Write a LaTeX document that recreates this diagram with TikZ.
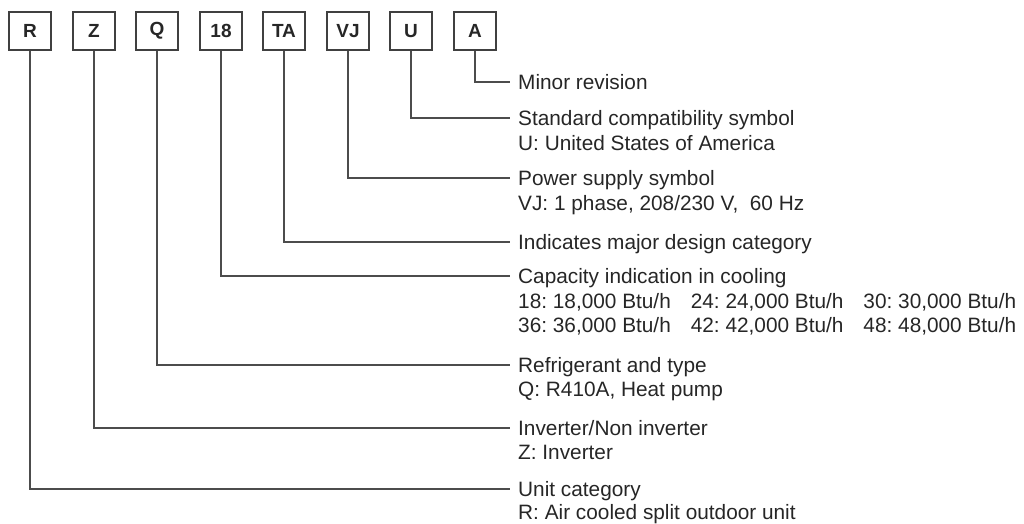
\documentclass[tikz,border=0pt]{standalone}
\usepackage{fontspec}
\setmainfont{Liberation Sans}
\usepackage{tikz}
\frenchspacing
\tikzset{code/.style={draw=black!75, line width=1.3pt, minimum width=42pt, minimum height=38pt, inner sep=0pt, font=\fontsize{19}{19}\selectfont\bfseries, text=black!85}}
\tikzset{head/.style={anchor=west, inner xsep=8pt, inner ysep=0pt, text height=15pt, text depth=0pt, font=\fontsize{20.8}{25}\selectfont, text=black!85}}
\tikzset{desc/.style={anchor=base west, inner xsep=8pt, inner ysep=0pt, font=\fontsize{20.8}{25}\selectfont, text=black!85}}
\tikzset{lead/.style={draw=black!70, line width=1.3pt}}

\begin{document}
\begin{tikzpicture}[x=1pt, y=-1pt]

	\useasboundingbox (0,0) rectangle (1024,523);

	% model code letters
	\node[code] (cR) at (30,31) {R};
	\node[code] (cZ) at (94,31) {Z};
	\node[code] (cQ) at (157,31) {Q};
	\node[code] (c18) at (221,31) {18};
	\node[code] (cTA) at (284,31) {TA};
	\node[code] (cVJ) at (348,31) {VJ};
	\node[code] (cU) at (411,31) {U};
	\node[code] (cA) at (475,31) {A};

	% meanings
	\node[head] (hA) at (510,82) {Minor revision};

	\node[head] (hU) at (510,118) {Standard compatibility symbol};
	\node[desc] (dU) at ([yshift=-25pt]hU.base west) {U: United States of America};

	\node[head] (hVJ) at (510,178) {Power supply symbol};
	\node[desc] (dVJ) at ([yshift=-25pt]hVJ.base west) {VJ: 1 phase, 208/230 V,\ \ 60 Hz};

	\node[head] (hTA) at (510,242) {Indicates major design category};

	\node[head] (h18) at (510,276) {Capacity indication in cooling};
	\node[desc] (d18a) at ([yshift=-25pt]h18.base west) {18: 18,000 Btu/h\hspace{20pt}24: 24,000 Btu/h\hspace{20pt}30: 30,000 Btu/h};
	\node[desc] (d18b) at ([yshift=-24pt]d18a.base west) {36: 36,000 Btu/h\hspace{20pt}42: 42,000 Btu/h\hspace{20pt}48: 48,000 Btu/h};

	\node[head] (hQ) at (510,365) {Refrigerant and type};
	\node[desc] (dQ) at ([yshift=-24pt]hQ.base west) {Q: R410A, Heat pump};

	\node[head] (hZ) at (510,428) {Inverter/Non inverter};
	\node[desc] (dZ) at ([yshift=-24pt]hZ.base west) {Z: Inverter};

	\node[head] (hR) at (510,489) {Unit category};
	\node[desc] (dR) at ([yshift=-23pt]hR.base west) {R: Air cooled split outdoor unit};

	% leaders
	\draw[lead] (cA.south) |- (hA.west);
	\draw[lead] (cU.south) |- (hU.west);
	\draw[lead] (cVJ.south) |- (hVJ.west);
	\draw[lead] (cTA.south) |- (hTA.west);
	\draw[lead] (c18.south) |- (h18.west);
	\draw[lead] (cQ.south) |- (hQ.west);
	\draw[lead] (cZ.south) |- (hZ.west);
	\draw[lead] (cR.south) |- (hR.west);

\end{tikzpicture}
\end{document}
